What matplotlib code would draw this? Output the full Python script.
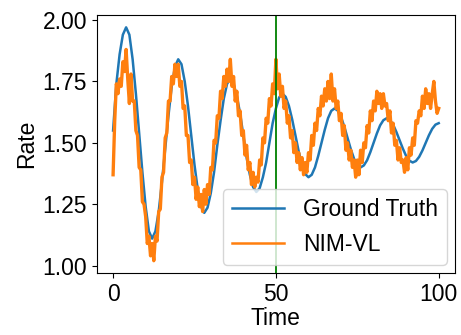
import numpy as np
import matplotlib
matplotlib.use("Agg")
import matplotlib.pyplot as plt

plt.rcParams["font.family"] = ["Liberation Sans", "DejaVu Sans"]
plt.rcParams["font.size"] = 16.5

# =========================================================
# Data
# =========================================================

# ground truth, one value per time unit (t = 0 .. 100)
truth_time = np.arange(0, 101, 1)
truth_rate = [
    1.55, 1.74, 1.86, 1.94, 1.97, 1.94, 1.84, 1.70, 1.54, 1.38,
    1.24, 1.14, 1.11, 1.14, 1.22, 1.34, 1.475, 1.61, 1.73, 1.81,
    1.84, 1.82, 1.75, 1.65, 1.53, 1.41, 1.31, 1.24, 1.215, 1.236,
    1.295, 1.38, 1.49, 1.59, 1.68, 1.74, 1.76, 1.74, 1.69, 1.62,
    1.53, 1.44, 1.37, 1.32, 1.30, 1.315, 1.36, 1.42, 1.50, 1.58,
    1.64, 1.685, 1.70, 1.687, 1.65, 1.595, 1.53, 1.465, 1.41, 1.373,
    1.36, 1.37, 1.40, 1.447, 1.50, 1.553, 1.60, 1.63, 1.64, 1.631,
    1.605, 1.566, 1.52, 1.474, 1.435, 1.409, 1.40, 1.408, 1.429, 1.462,
    1.50, 1.538, 1.571, 1.592, 1.60, 1.593, 1.574, 1.544, 1.51, 1.476,
    1.446, 1.427, 1.42, 1.426, 1.443, 1.469, 1.50, 1.531, 1.557, 1.574,
    1.58,
]

# NIM-VL estimate, every half time unit (t = 0 .. 100)
model_time = np.arange(0, 100.5, 0.5)
model_rate = [
    1.37, 1.59, 1.74, 1.70, 1.76, 1.73, 1.83, 1.79, 1.88, 1.76,
    1.66, 1.78, 1.67, 1.67, 1.55, 1.53, 1.40, 1.39, 1.26, 1.25,
    1.20, 1.09, 1.12, 1.04, 1.09, 1.02, 1.12, 1.10, 1.22, 1.23,
    1.36, 1.38, 1.52, 1.54, 1.67, 1.67, 1.77, 1.74, 1.82, 1.77,
    1.82, 1.73, 1.75, 1.64, 1.65, 1.53, 1.53, 1.42, 1.43, 1.33,
    1.36, 1.27, 1.32, 1.24, 1.29, 1.22, 1.31, 1.25, 1.33, 1.29,
    1.40, 1.39, 1.51, 1.50, 1.61, 1.60, 1.71, 1.68, 1.77, 1.73,
    1.80, 1.75, 1.84, 1.73, 1.77, 1.67, 1.71, 1.61, 1.63, 1.53,
    1.55, 1.45, 1.49, 1.39, 1.42, 1.33, 1.38, 1.32, 1.36, 1.34,
    1.43, 1.41, 1.52, 1.50, 1.60, 1.58, 1.68, 1.65, 1.74, 1.70,
    1.84, 1.72, 1.78, 1.69, 1.73, 1.64, 1.67, 1.58, 1.61, 1.52,
    1.55, 1.46, 1.50, 1.42, 1.46, 1.39, 1.44, 1.37, 1.42, 1.38,
    1.46, 1.43, 1.53, 1.49, 1.58, 1.55, 1.64, 1.61, 1.69, 1.65,
    1.72, 1.67, 1.75, 1.68, 1.78, 1.67, 1.72, 1.64, 1.67, 1.59,
    1.62, 1.53, 1.57, 1.47, 1.50, 1.43, 1.47, 1.40, 1.43, 1.36,
    1.43, 1.37, 1.47, 1.42, 1.50, 1.48, 1.57, 1.54, 1.63, 1.59,
    1.67, 1.63, 1.71, 1.66, 1.70, 1.64, 1.70, 1.65, 1.66, 1.59,
    1.63, 1.54, 1.58, 1.49, 1.51, 1.43, 1.48, 1.42, 1.43, 1.38,
    1.44, 1.39, 1.48, 1.45, 1.52, 1.49, 1.59, 1.58, 1.63, 1.61,
    1.69, 1.64, 1.72, 1.66, 1.70, 1.64, 1.70, 1.75, 1.67, 1.62,
    1.64,
]

split_time = 50

# =========================================================
# Plot
# =========================================================

fig = plt.figure(figsize=(4.61, 3.35), dpi=100)
ax = fig.add_axes([0.210, 0.185, 0.777, 0.770])

ax.plot(truth_time, truth_rate, color="#1f77b4", linewidth=1.8, label="Ground Truth")
ax.plot(model_time, model_rate, color="#ff7f0e", linewidth=2.4, label="NIM-VL")
ax.axvline(split_time, color="green", linewidth=1.3)

ax.set_xlim(-5, 105)
ax.set_ylim(0.97, 2.02)
ax.set_xticks([0, 50, 100])
ax.set_yticks([1.00, 1.25, 1.50, 1.75, 2.00])
ax.set_yticklabels(["1.00", "1.25", "1.50", "1.75", "2.00"])

ax.set_xlabel("Time", labelpad=1)
ax.set_ylabel("Rate", labelpad=3)

leg = ax.legend(loc="lower right", handlelength=2.3, borderaxespad=0.35)
for line in leg.get_lines():
    line.set_linewidth(1.8)

fig.savefig("out.png", dpi=100)
plt.close(fig)
